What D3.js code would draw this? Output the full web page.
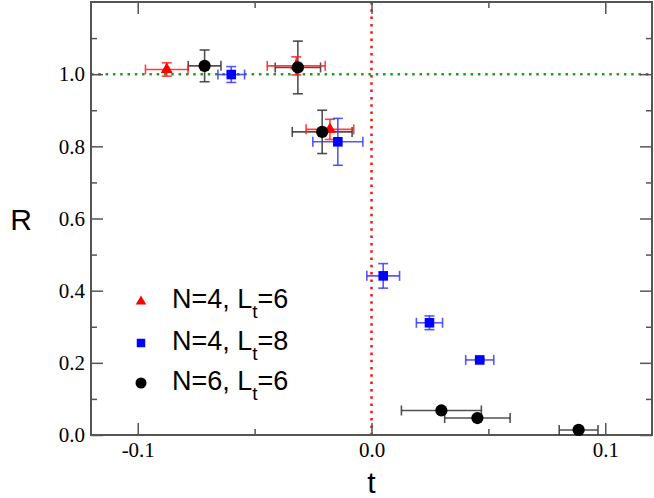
<!DOCTYPE html>
<html>
<head>
<meta charset="utf-8">
<script src="https://cdn.jsdelivr.net/npm/d3@7"></script>
<style>
  body { margin: 0; background: #fff; }
  svg { display: block; }
  .tick text { font-family: "Liberation Serif", "DejaVu Serif", serif; }
</style>
</head>
<body>
<svg id="chart" width="654" height="498"></svg>
<script>
// N=4, Lt=6 (red triangles)
const redT = [-0.0876, -0.0322, -0.0178];
const redR = [1.013, 1.023, 0.847];
const redTErr = [0.0091, 0.0124, 0.0102];
const redRErr = [0.0185, 0.025, 0.028];

// N=4, Lt=8 (blue squares)
const blueT = [-0.060, -0.0144, 0.005, 0.0248, 0.0463];
const blueR = [0.999, 0.8125, 0.441, 0.311, 0.208];
const blueTErr = [0.0057, 0.0107, 0.007, 0.0056, 0.006];
const blueRErr = [0.022, 0.065, 0.034, 0.019, 0.004];

// N=6, Lt=6 (black circles)
const blackT = [-0.0714, -0.0315, -0.0211, 0.0299, 0.0453, 0.0886];
const blackR = [1.023, 1.0186, 0.840, 0.068, 0.047, 0.014];
const blackTErr = [0.007, 0.0097, 0.0128, 0.0171, 0.014, 0.0083];
const blackRErr = [0.044, 0.073, 0.060, 0.0, 0.0, 0.0];

const xMajor = [-0.1, 0.0, 0.1];
const xMinor = [-0.05, 0.05];
const yMajor = [0.0, 0.2, 0.4, 0.6, 0.8, 1.0];
const yMinor = [0.1, 0.3, 0.5, 0.7, 0.9, 1.1];

const svg = d3.select("#chart");
const width = +svg.attr("width");
const height = +svg.attr("height");
const margin = { top: 2, right: 2, bottom: 63, left: 91 };

const x = d3.scaleLinear().domain([-0.12, 0.12]).range([margin.left, width - margin.right]);
const y = d3.scaleLinear().domain([0, 1.2]).range([height - margin.bottom, margin.top]);

const axisColor = "#555";

// reference lines
svg.append("line")
  .attr("x1", x(-0.12)).attr("x2", x(0.12))
  .attr("y1", y(1)).attr("y2", y(1))
  .attr("stroke", "#1e9e1e").attr("stroke-width", 2.5)
  .attr("stroke-dasharray", "2.5,4.8");
svg.append("line")
  .attr("x1", x(0)).attr("x2", x(0))
  .attr("y1", y(1.2)).attr("y2", y(0))
  .attr("stroke", "#ff1010").attr("stroke-width", 2.5)
  .attr("stroke-dasharray", "2.5,4.8");

// axes: ticks inside, mirrored on top/right
const fmt = v => d3.format(".1f")(v).replace("−", "-");
function addAxis(axis, transform, labels) {
  const g = svg.append("g").attr("transform", transform).call(axis)
    .attr("font-family", "Liberation Serif, DejaVu Serif, serif")
    .attr("font-size", 21);
  g.select(".domain").remove();
  g.selectAll("line").attr("stroke", axisColor).attr("stroke-width", 1.5);
  g.selectAll("text").attr("fill", "#000");
  if (!labels) g.selectAll("text").remove();
  return g;
}
const bottomY = height - margin.bottom;
addAxis(d3.axisBottom(x).tickValues(xMajor).tickSize(-12).tickPadding(7).tickFormat(fmt), `translate(0,${bottomY})`, true);
addAxis(d3.axisBottom(x).tickValues(xMinor).tickSize(-6), `translate(0,${bottomY})`, false);
addAxis(d3.axisTop(x).tickValues(xMajor).tickSize(-12), `translate(0,${margin.top})`, false);
addAxis(d3.axisTop(x).tickValues(xMinor).tickSize(-6), `translate(0,${margin.top})`, false);
addAxis(d3.axisLeft(y).tickValues(yMajor).tickSize(-12).tickPadding(6).tickFormat(fmt), `translate(${margin.left},0)`, true);
addAxis(d3.axisLeft(y).tickValues(yMinor).tickSize(-6), `translate(${margin.left},0)`, false);
addAxis(d3.axisRight(y).tickValues(yMajor).tickSize(-12), `translate(${width - margin.right},0)`, false);
addAxis(d3.axisRight(y).tickValues(yMinor).tickSize(-6), `translate(${width - margin.right},0)`, false);

// frame
svg.append("rect")
  .attr("x", margin.left).attr("y", margin.top)
  .attr("width", width - margin.left - margin.right)
  .attr("height", height - margin.top - margin.bottom)
  .attr("fill", "none").attr("stroke", axisColor).attr("stroke-width", 2);

// series
const series = [
  { name: "red", t: redT, r: redR, te: redTErr, re: redRErr, color: "#ff0000", errColor: "#ff2020", symbol: d3.symbolTriangle, size: 62, legendSize: 48, label: ["N=4, L", "t", "=6"] },
  { name: "blue", t: blueT, r: blueR, te: blueTErr, re: blueRErr, color: "#0000ff", errColor: "#3a3aff", symbol: d3.symbolSquare, size: 92, legendSize: 72, label: ["N=4, L", "t", "=8"] },
  { name: "black", t: blackT, r: blackR, te: blackTErr, re: blackRErr, color: "#000", errColor: "#333", symbol: d3.symbolCircle, size: 118, legendSize: 95, label: ["N=6, L", "t", "=6"] }
];

const cap = 5;
// error bars first, then markers
["black", "red", "blue"].forEach(nm => {
  const s = series.find(d => d.name === nm);
  const pts = s.t.map((t, i) => ({ t, r: s.r[i], te: s.te[i], re: s.re[i] }));
  const g = svg.append("g").attr("stroke", s.errColor).attr("stroke-width", 1.6).attr("stroke-opacity", 0.85);
  pts.forEach(p => {
    const cx = x(p.t), cy = y(p.r);
    const x0 = x(p.t - p.te), x1 = x(p.t + p.te);
    g.append("line").attr("x1", x0).attr("x2", x1).attr("y1", cy).attr("y2", cy);
    g.append("line").attr("x1", x0).attr("x2", x0).attr("y1", cy - cap).attr("y2", cy + cap);
    g.append("line").attr("x1", x1).attr("x2", x1).attr("y1", cy - cap).attr("y2", cy + cap);
    if (p.re > 0) {
      const y0 = y(p.r - p.re), y1 = y(p.r + p.re);
      g.append("line").attr("x1", cx).attr("x2", cx).attr("y1", y0).attr("y2", y1);
      g.append("line").attr("x1", cx - cap).attr("x2", cx + cap).attr("y1", y0).attr("y2", y0);
      g.append("line").attr("x1", cx - cap).attr("x2", cx + cap).attr("y1", y1).attr("y2", y1);
    }
  });
});

series.forEach(s => {
  svg.append("g").selectAll("path")
    .data(s.t.map((t, i) => ({ t, r: s.r[i] })))
    .enter().append("path")
    .attr("d", d3.symbol().type(s.symbol).size(s.size))
    .attr("transform", d => `translate(${x(d.t)},${y(d.r)})`)
    .attr("fill", s.color);
});

// legend
const legendRows = [301.5, 343, 383];
series.forEach((s, i) => {
  svg.append("path")
    .attr("d", d3.symbol().type(s.symbol).size(s.legendSize))
    .attr("transform", `translate(141,${legendRows[i]})`)
    .attr("fill", s.color);
  const txt = svg.append("text")
    .attr("x", 172)
    .attr("y", legendRows[i] + 6.5)
    .style("font-family", "'Liberation Sans', Arial, sans-serif")
    .style("font-size", "27px")
    .attr("fill", "#000");
  txt.append("tspan").text(s.label[0]);
  txt.append("tspan").attr("dy", 10).style("font-size", "19px").text(s.label[1]);
  txt.append("tspan").attr("dy", -10).text(s.label[2]);
});

// axis titles
svg.append("text")
  .attr("x", x(0)).attr("y", 493)
  .attr("text-anchor", "middle")
  .style("font-family", "'Liberation Sans', Arial, sans-serif")
  .style("font-size", "30px")
  .text("t");
svg.append("text")
  .attr("x", 21).attr("y", 230)
  .attr("text-anchor", "middle")
  .style("font-family", "'Liberation Sans', Arial, sans-serif")
  .style("font-size", "30px")
  .text("R");
</script>
</body>
</html>
